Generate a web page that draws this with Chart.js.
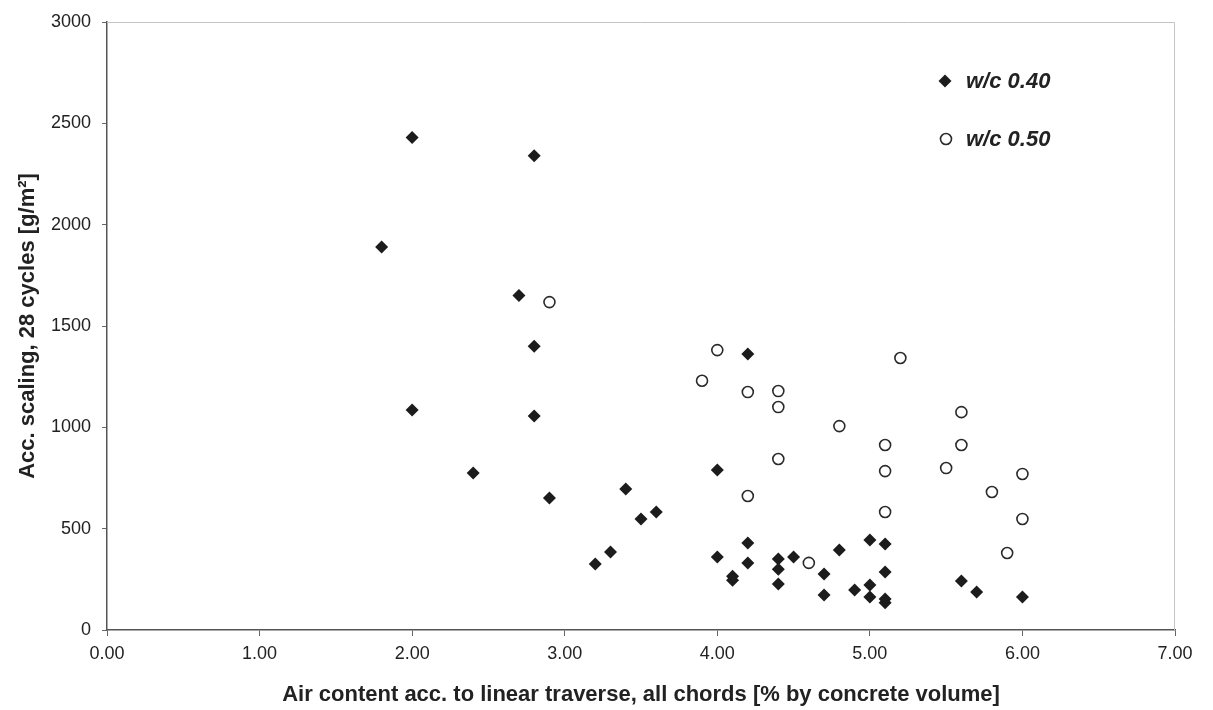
<!DOCTYPE html>
<html>
<head>
<meta charset="utf-8">
<title>Acc. scaling vs air content</title>
<script src="https://cdn.jsdelivr.net/npm/chart.js@4/dist/chart.umd.min.js"></script>
<style>
  html, body { margin: 0; padding: 0; background: #fff; }
  #wrap { width: 1213px; height: 710px; }
</style>
</head>
<body>
<div id="wrap"><canvas id="grafico" width="1213" height="710"></canvas></div>
<script>
// w/c 0.40 (diamonds)
const ar040 = [2.0, 2.8, 1.8, 2.7, 2.8, 2.0, 2.8, 2.4, 2.9, 3.4, 3.5, 3.6, 3.2, 3.3, 4.0, 4.2, 4.0, 4.2, 4.2, 4.1, 4.1, 4.4, 4.4, 4.4, 4.5, 4.7, 4.7, 4.8, 4.9, 5.0, 5.0, 5.0, 5.1, 5.1, 5.1, 5.1, 5.6, 5.7, 6.0];
const desc040 = [2430, 2340, 1890, 1650, 1400, 1085, 1056, 775, 651, 696, 548, 582, 326, 385, 789, 1362, 360, 429, 330, 265, 245, 350, 300, 227, 360, 276, 173, 395, 197, 444, 222, 163, 424, 286, 153, 135, 242, 187, 163];

// w/c 0.50 (circulos)
const ar050 = [2.9, 4.0, 3.9, 4.2, 4.4, 4.4, 4.8, 4.4, 4.2, 4.6, 5.2, 5.1, 5.1, 5.1, 5.6, 5.6, 5.5, 6.0, 5.8, 6.0, 5.9];
const desc050 = [1618, 1381, 1230, 1174, 1179, 1100, 1006, 844, 661, 331, 1342, 913, 784, 582, 1075, 913, 799, 770, 681, 548, 380];

const rotulos = ["w/c 0.40", "w/c 0.50"];
const xTicks = [0, 1, 2, 3, 4, 5, 6, 7];
const yTicks = [0, 500, 1000, 1500, 2000, 2500, 3000];

const corTexto = "#222";
const fonteBase = "'Liberation Sans', Arial, sans-serif";

function montaPontos(xs, ys) {
  return xs.map((x, i) => ({ x: x, y: ys[i] }));
}

// legenda dentro da area do grafico
const legendaInterna = {
  id: "legendaInterna",
  afterDraw(chart) {
    const ctx = chart.ctx;
    const area = chart.chartArea;
    const x = area.right - 230;
    const linhas = [area.top + 59, area.top + 117];
    ctx.save();
    linhas.forEach((y, i) => {
      if (i === 0) {
        ctx.beginPath();
        ctx.moveTo(x, y - 6.5);
        ctx.lineTo(x + 6.5, y);
        ctx.lineTo(x, y + 6.5);
        ctx.lineTo(x - 6.5, y);
        ctx.closePath();
        ctx.fillStyle = "#1c1c1c";
        ctx.fill();
      } else {
        ctx.beginPath();
        ctx.arc(x + 1, y, 5.5, 0, Math.PI * 2);
        ctx.fillStyle = "#fff";
        ctx.fill();
        ctx.lineWidth = 1.6;
        ctx.strokeStyle = "#2a2a2a";
        ctx.stroke();
      }
      ctx.fillStyle = corTexto;
      ctx.font = "italic bold 22px " + fonteBase;
      ctx.textBaseline = "middle";
      ctx.textAlign = "left";
      ctx.fillText(rotulos[i], x + 21, y + 1);
    });
    ctx.restore();
  },
};

// moldura clara (topo e direita)
const moldura = {
  id: "moldura",
  beforeDatasetsDraw(chart) {
    const ctx = chart.ctx;
    const a = chart.chartArea;
    ctx.save();
    ctx.strokeStyle = "#c4c4c4";
    ctx.lineWidth = 1;
    ctx.beginPath();
    ctx.moveTo(a.left, a.top + 0.5);
    ctx.lineTo(a.right - 0.5, a.top + 0.5);
    ctx.lineTo(a.right - 0.5, a.bottom);
    ctx.stroke();
    ctx.restore();
  },
};

Chart.defaults.font.family = fonteBase;
Chart.defaults.color = corTexto;

new Chart(document.getElementById("grafico"), {
  type: "scatter",
  data: {
    datasets: [
      {
        label: rotulos[0],
        data: montaPontos(ar040, desc040),
        pointStyle: "rectRot",
        pointRadius: 6.5,
        pointHoverRadius: 6.5,
        backgroundColor: "#1c1c1c",
        borderColor: "#1c1c1c",
        borderWidth: 0,
      },
      {
        label: rotulos[1],
        data: montaPontos(ar050, desc050),
        pointStyle: "circle",
        pointRadius: 5.5,
        pointHoverRadius: 5.5,
        backgroundColor: "#fff",
        borderColor: "#2a2a2a",
        borderWidth: 1.6,
      },
    ],
  },
  options: {
    responsive: false,
    animation: false,
    layout: { padding: { top: 22, right: 38, left: 0, bottom: 0 } },
    plugins: {
      legend: { display: false },
      tooltip: { enabled: false },
    },
    scales: {
      x: {
        type: "linear",
        min: 0,
        max: 7,
        afterBuildTicks(scale) {
          scale.ticks = xTicks.map((v) => ({ value: v }));
        },
        afterFit(scale) {
          scale.height = 80;
        },
        ticks: {
          font: { size: 18 },
          padding: 7,
          maxRotation: 0,
          callback: (v) => Number(v).toFixed(2),
        },
        grid: {
          drawOnChartArea: false,
          drawTicks: true,
          tickLength: 6,
          color: "#666",
        },
        border: { display: true, color: "#555", width: 1.5 },
        title: {
          display: true,
          text: "Air content acc. to linear traverse, all chords [% by concrete volume]",
          font: { size: 22, weight: "bold" },
          padding: { top: 0, bottom: 2 },
        },
      },
      y: {
        type: "linear",
        min: 0,
        max: 3000,
        afterBuildTicks(scale) {
          scale.ticks = yTicks.map((v) => ({ value: v }));
        },
        afterFit(scale) {
          scale.width = 107;
        },
        ticks: {
          font: { size: 18 },
          padding: 11,
          callback: (v) => String(v),
        },
        grid: {
          drawOnChartArea: false,
          drawTicks: true,
          tickLength: 5,
          color: "#666",
        },
        border: { display: true, color: "#555", width: 1.5 },
        title: {
          display: true,
          text: "Acc. scaling, 28 cycles [g/m²]",
          font: { size: 22, weight: "bold" },
          padding: { top: 15, bottom: 0 },
        },
      },
    },
  },
  plugins: [moldura, legendaInterna],
});
</script>
</body>
</html>
